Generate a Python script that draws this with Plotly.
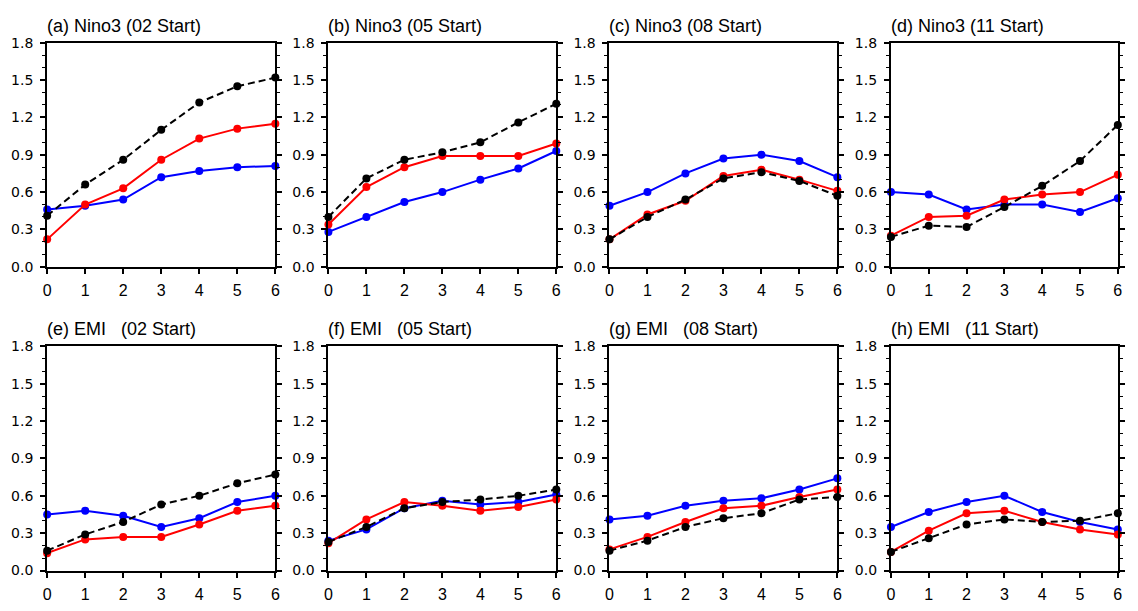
import plotly.graph_objects as go

lead = [0, 1, 2, 3, 4, 5, 6]
titles = [
    "(a) Nino3 (02 Start)", "(b) Nino3 (05 Start)", "(c) Nino3 (08 Start)", "(d) Nino3 (11 Start)",
    "(e) EMI\u00a0\u00a0\u00a0(02 Start)", "(f) EMI\u00a0\u00a0\u00a0(05 Start)",
    "(g) EMI\u00a0\u00a0\u00a0(08 Start)", "(h) EMI\u00a0\u00a0\u00a0(11 Start)",
]
y_ticks = [0.0, 0.3, 0.6, 0.9, 1.2, 1.5, 1.8]
y_ticklabels = ["0.0", "0.3", "0.6", "0.9", "1.2", "1.5", "1.8"]

black_a = [0.41, 0.66, 0.86, 1.10, 1.32, 1.45, 1.52]
red_a   = [0.22, 0.50, 0.63, 0.86, 1.03, 1.11, 1.15]
blue_a  = [0.46, 0.49, 0.54, 0.72, 0.77, 0.80, 0.81]

black_b = [0.40, 0.71, 0.86, 0.92, 1.00, 1.16, 1.31]
red_b   = [0.34, 0.64, 0.80, 0.89, 0.89, 0.89, 0.99]
blue_b  = [0.28, 0.40, 0.52, 0.60, 0.70, 0.79, 0.93]

black_c = [0.22, 0.40, 0.54, 0.71, 0.76, 0.69, 0.57]
red_c   = [0.22, 0.42, 0.53, 0.73, 0.78, 0.70, 0.61]
blue_c  = [0.49, 0.60, 0.75, 0.87, 0.90, 0.85, 0.72]

black_d = [0.24, 0.33, 0.32, 0.48, 0.65, 0.85, 1.14]
red_d   = [0.25, 0.40, 0.41, 0.54, 0.58, 0.60, 0.74]
blue_d  = [0.60, 0.58, 0.46, 0.50, 0.50, 0.44, 0.55]

black_e = [0.16, 0.29, 0.39, 0.53, 0.60, 0.70, 0.77]
red_e   = [0.14, 0.25, 0.27, 0.27, 0.37, 0.48, 0.52]
blue_e  = [0.45, 0.48, 0.44, 0.35, 0.42, 0.55, 0.60]

black_f = [0.23, 0.35, 0.50, 0.55, 0.57, 0.60, 0.65]
red_f   = [0.22, 0.41, 0.55, 0.52, 0.48, 0.51, 0.57]
blue_f  = [0.24, 0.33, 0.50, 0.56, 0.53, 0.55, 0.61]

black_g = [0.16, 0.24, 0.35, 0.42, 0.46, 0.57, 0.59]
red_g   = [0.17, 0.27, 0.39, 0.50, 0.52, 0.59, 0.65]
blue_g  = [0.41, 0.44, 0.52, 0.56, 0.58, 0.65, 0.74]

black_h = [0.15, 0.26, 0.37, 0.41, 0.39, 0.40, 0.46]
red_h   = [0.15, 0.32, 0.46, 0.48, 0.39, 0.33, 0.29]
blue_h  = [0.35, 0.47, 0.55, 0.60, 0.47, 0.39, 0.33]

panels = [
    (black_a, red_a, blue_a), (black_b, red_b, blue_b), (black_c, red_c, blue_c), (black_d, red_d, blue_d),
    (black_e, red_e, blue_e), (black_f, red_f, blue_f), (black_g, red_g, blue_g), (black_h, red_h, blue_h),
]

W, H = 1138, 611
x_px = [(43.5, 273.5), (327.0, 556.7), (610.3, 840.0), (894.0, 1122.7)]
y_px = [(35.7, 265.7), (347.3, 577.7)]

fig = go.Figure()
font = "Liberation Sans, Arial, Helvetica, sans-serif"
yfont = "DejaVu Sans, sans-serif"

for i, (blk, red, blu) in enumerate(panels):
    row, col = divmod(i, 4)
    n = i + 1
    xa = "x" if n == 1 else f"x{n}"
    ya = "y" if n == 1 else f"y{n}"
    for vals, color, dash in [(blu, "#0000ff", "solid"), (red, "#ff0000", "solid"), (blk, "#000000", "7px,4px")]:
        fig.add_trace(go.Scatter(
            x=lead, y=vals, xaxis=xa, yaxis=ya, mode="lines+markers",
            line=dict(color=color, width=2, dash=dash),
            marker=dict(color=color, size=8),
            cliponaxis=False, showlegend=False, hoverinfo="skip",
        ))
    x0, x1 = x_px[col]
    yt, yb = y_px[row]
    xdom = [x0 / W, x1 / W]
    ydom = [1 - yb / H, 1 - yt / H]
    xkey = "xaxis" if n == 1 else f"xaxis{n}"
    ykey = "yaxis" if n == 1 else f"yaxis{n}"
    fig.update_layout(**{
        xkey: dict(domain=xdom, anchor=ya, range=[0, 6], tickvals=lead,
                   ticktext=[str(v) for v in lead],
                   showgrid=False, zeroline=False, showline=True, linecolor="black",
                   linewidth=2, mirror=True, ticks="outside", ticklen=5, tickwidth=1.5,
                   tickcolor="black", ticklabelstandoff=3,
                   tickfont=dict(family=font, size=16, color="black")),
        ykey: dict(domain=ydom, anchor=xa, range=[0, 1.8], tickvals=y_ticks,
                   ticktext=y_ticklabels,
                   showgrid=False, zeroline=False, showline=True, linecolor="black",
                   linewidth=2, mirror="ticks", ticks="outside", ticklen=5, tickwidth=1.5,
                   tickcolor="black", ticklabelstandoff=4,
                   tickfont=dict(family=yfont, size=14, color="black"),
                   minor=dict(dtick=0.1, ticks="outside", ticklen=3, tickwidth=1,
                              tickcolor="black", showgrid=False)),
    })
    fig.add_annotation(text=titles[i], xref="paper", yref="paper",
                       x=(x0 - 2) / W, y=1 - (yt - 5) / H, xanchor="left", yanchor="bottom",
                       showarrow=False, font=dict(family=font, size=18, color="black"))

fig.update_layout(width=W, height=H, margin=dict(l=0, r=0, t=0, b=0),
                  paper_bgcolor="white", plot_bgcolor="white")
fig.write_html("out.html", config={"displayModeBar": False},
               post_script="document.body.style.margin='0px';document.body.style.overflow='hidden';")
